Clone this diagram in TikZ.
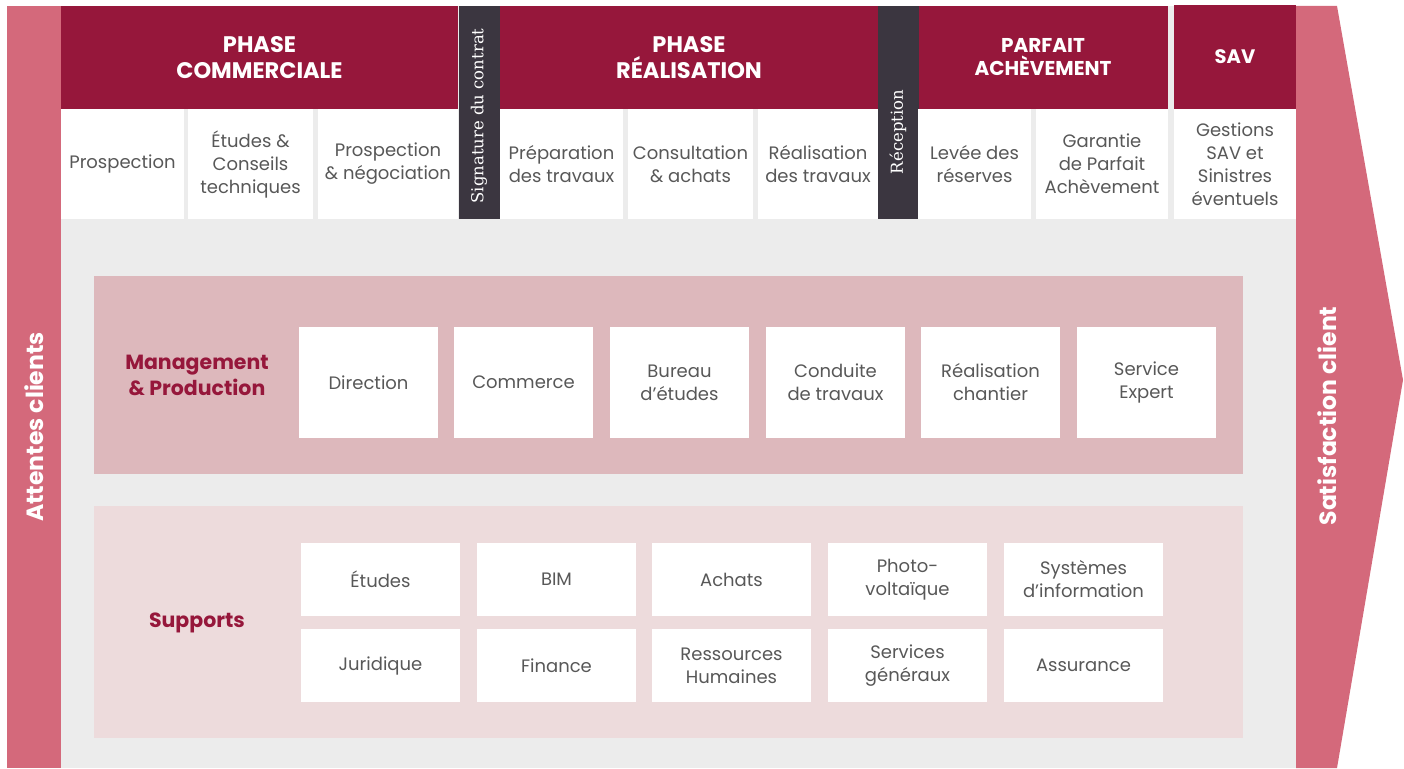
\documentclass[tikz,border=0pt]{standalone}
\usepackage{fontspec}
\setmainfont{Poppins}
\newfontfamily\slabfont{DejaVu Serif}
\usepackage{tikz}

\definecolor{bandpink}{HTML}{D4697B}
\definecolor{headred}{HTML}{96173B}
\definecolor{darkbar}{HTML}{3B3640}
\definecolor{mgmtpink}{HTML}{DDB8BC}
\definecolor{suppink}{HTML}{EDDBDC}
\definecolor{bggray}{HTML}{ECECEC}
\definecolor{txtgray}{HTML}{585858}

\begin{document}
\begin{tikzpicture}[x=1pt,y=-1pt]
        \tikzstyle{every node}=[inner sep=0pt, outer sep=0pt, align=center]
        \tikzstyle{headbox}=[fill=headred, text=white, font=\fontsize{22.5}{26}\selectfont\bfseries, minimum height=103pt]
        \tikzstyle{cellbox}=[fill=white, text=txtgray, font=\fontsize{18}{23}\selectfont, minimum height=110pt]
        \tikzstyle{milestone}=[fill=darkbar, minimum width=41pt, minimum height=213pt]
        \tikzstyle{mstext}=[text=white, rotate=90, font=\slabfont\fontsize{16.5}{18}\selectfont]
        \tikzstyle{mgmtbox}=[fill=white, text=txtgray, font=\fontsize{18}{23}\selectfont, minimum width=139pt, minimum height=111pt]
        \tikzstyle{supbox}=[fill=white, text=txtgray, font=\fontsize{18}{23}\selectfont, minimum width=159pt, minimum height=73pt]
        \tikzstyle{grouplabel}=[text=headred, font=\fontsize{20.5}{26}\selectfont\bfseries]
        \tikzstyle{bandlabel}=[text=white, rotate=90, font=\fontsize{23.5}{26}\selectfont\bfseries]
        \useasboundingbox (0,0) rectangle (1404,768);
        % background and side bands
        \fill[bggray] (61,6) rectangle (1296,768);
        \fill[bandpink] (7,6) rectangle (61,768);
        \fill[bandpink] (1296,6) -- (1337,6) -- (1403,380) -- (1337,768) -- (1296,768) -- cycle;
        \node[bandlabel] (attentes) at (34,427) {Attentes clients};
        \node[bandlabel] (satisfaction) at (1327,416) {Satisfaction client};
        % phases
        \node[headbox, minimum width=397pt] (commerciale) at (259.5,57.5) {PHASE\\COMMERCIALE};
        \node[headbox, minimum width=378pt] (realisation) at (689,57.5) {PHASE\\RÉALISATION};
        \node[headbox, minimum width=250pt, font=\fontsize{20}{23}\selectfont\bfseries] (parfait) at (1043,57.5) {PARFAIT\\ACHÈVEMENT};
        \node[headbox, minimum width=122pt, font=\fontsize{19.5}{23}\selectfont\bfseries] (sav) at (1235,57) {SAV};
        \node[milestone] (signature) at (479,112.5) {};
        \node[mstext] (signaturetext) at (479,116) {Signature du contrat};
        \node[milestone] (reception) at (898,112.5) {};
        \node[mstext] (receptiontext) at (898,132) {Réception};
        % steps
        \node[cellbox, minimum width=123pt] (prospection) at (122.5,164) {Prospection};
        \node[cellbox, minimum width=125pt] (etudes) at (250.5,164) {Études \&\\Conseils\\techniques};
        \node[cellbox, minimum width=140pt] (negociation) at (388,164) {Prospection\\\& négociation};
        \node[cellbox, minimum width=123pt] (preparation) at (561.5,164) {Préparation\\des travaux};
        \node[cellbox, minimum width=125pt] (consultation) at (690.5,164) {Consultation\\\& achats};
        \node[cellbox, minimum width=120pt] (travaux) at (818,164) {Réalisation\\des travaux};
        \node[cellbox, minimum width=113pt] (levee) at (974.5,164) {Levée des\\réserves};
        \node[cellbox, minimum width=132pt] (garantie) at (1102,164) {Garantie\\de Parfait\\Achèvement};
        \node[cellbox, minimum width=122pt] (gestions) at (1235,164) {Gestions\\SAV et\\Sinistres\\éventuels};
        % management & production
        \fill[mgmtpink] (94,276) rectangle (1243,474);
        \node[grouplabel] (management) at (197,375) {Management\\\& Production};
        \foreach \name/\x/\txt in {direction/368.5/Direction, commerce/523.5/Commerce, bureau/679.5/{Bureau\\d’études}, conduite/835.5/{Conduite\\de travaux}, chantier/990.5/{Réalisation\\chantier}, expert/1146.5/{Service\\Expert}}
            \node[mgmtbox] (\name) at (\x,382.5) {\txt};
        % supports
        \fill[suppink] (94,506) rectangle (1243,738);
        \node[grouplabel] (supports) at (197,623) {Supports};
        \foreach \name/\x/\txt in {setudes/380.5/Études, bim/556.5/BIM, achats/731.5/Achats, photo/907.5/{Photo-\\voltaïque}, systemes/1083.5/{Systèmes\\d’information}}
            \node[supbox] (\name) at (\x,579.5) {\txt};
        \foreach \name/\x/\txt in {juridique/380.5/Juridique, finance/556.5/Finance, rh/731.5/{Ressources\\Humaines}, generaux/907.5/{Services\\généraux}, assurance/1083.5/Assurance}
            \node[supbox] (\name) at (\x,665.5) {\txt};
    \end{tikzpicture}
\end{document}
